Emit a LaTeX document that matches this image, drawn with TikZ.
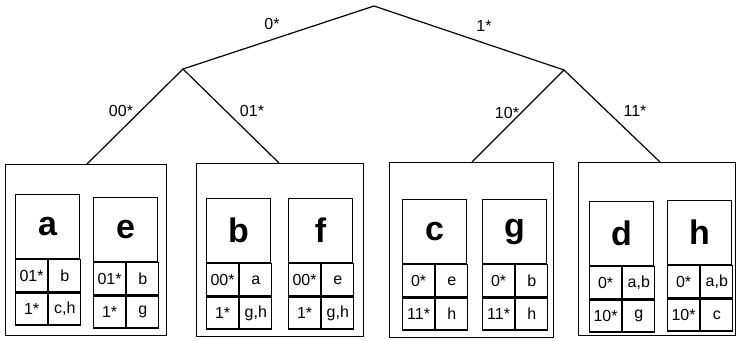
\documentclass[tikz,border=0pt]{standalone}
\usepackage{fontspec}
\setmainfont{Liberation Sans}
\begin{document}
\begin{tikzpicture}[x=1pt,y=-1pt,line width=1.2pt,
  outerbox/.style={draw,rectangle,anchor=north west,inner sep=0pt,line width=1.4pt},
  hdr/.style={draw,rectangle,anchor=north west,inner sep=0pt,minimum width=64pt,minimum height=64pt,font=\fontsize{34}{34}\selectfont\bfseries},
  cellbox/.style={draw,rectangle,anchor=north west,inner sep=0pt,minimum width=32pt,minimum height=32pt,font=\fontsize{16}{16}\selectfont},
  elabel/.style={font=\fontsize{16}{16}\selectfont,inner sep=0pt}]
\useasboundingbox (0,0) rectangle (736,340);
\newcommand\peercard[8]{%
  \node[hdr] (#1h) at (#2,#3) {#4};
  \node[cellbox] (#1a) at (#1h.south west) {#5};
  \node[cellbox] (#1b) at (#1a.north east) {#6};
  \node[cellbox] (#1c) at (#1a.south west) {#7};
  \node[cellbox] (#1d) at (#1c.north east) {#8};
}
% outer boxes
\node[outerbox,minimum width=161pt,minimum height=171pt] (boxA) at (5,164) {};
\node[outerbox,minimum width=167pt,minimum height=173pt] (boxB) at (196,163) {};
\node[outerbox,minimum width=164pt,minimum height=175pt] (boxC) at (389,162) {};
\node[outerbox,minimum width=157pt,minimum height=173pt] (boxD) at (578,162) {};
% cards
\peercard{pa}{15}{194}{a}{01*}{b}{1*}{c,h}
\peercard{pe}{93}{197}{e}{01*}{b}{1*}{g}
\peercard{pb}{206}{198}{b}{00*}{a}{1*}{g,h}
\peercard{pf}{288}{198}{f}{00*}{e}{1*}{g,h}
\peercard{pc}{402}{199}{c}{0*}{e}{11*}{h}
\peercard{pg}{482}{199}{g}{0*}{b}{11*}{h}
\peercard{pd}{589}{201}{d}{0*}{a,b}{10*}{g}
\peercard{ph}{667}{200}{h}{0*}{a,b}{10*}{c}
% tree
\coordinate (root) at (374,6);
\coordinate (L) at (183,69);
\coordinate (R) at (564,70);
\coordinate (tA) at (87,164);
\coordinate (tB) at (279,163);
\coordinate (tC) at (472,162);
\coordinate (tD) at (660,162);
\draw (L) -- (root) -- (R);
\draw (tA) -- (L) -- (tB);
\draw (tC) -- (R) -- (tD);
% labels
\node[elabel] (l0) at (272,24) {0*};
\node[elabel] (l1) at (484,26) {1*};
\node[elabel] (l00) at (121,111) {00*};
\node[elabel] (l01) at (252,111) {01*};
\node[elabel] (l10) at (507,113) {10*};
\node[elabel] (l11) at (635,111) {11*};
\end{tikzpicture}
\end{document}
